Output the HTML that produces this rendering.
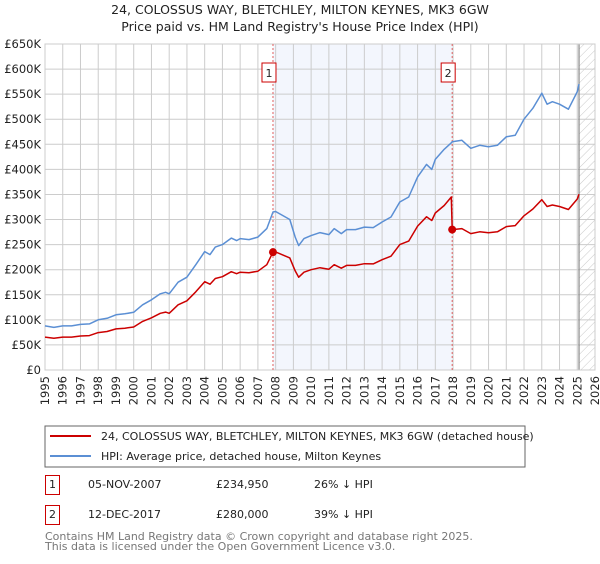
<!DOCTYPE html>
<html><head><meta charset="utf-8"><style>
body{margin:0;background:#fff;font-family:"DejaVu Sans","Liberation Sans",sans-serif;}
svg text{font-family:"DejaVu Sans","Liberation Sans",sans-serif;}
</style></head><body>
<svg width="600" height="560" viewBox="0 0 600 560">
<defs><pattern id="hatch" width="6" height="6" patternUnits="userSpaceOnUse" patternTransform="rotate(45)"><line x1="0" y1="0" x2="0" y2="6" stroke="#bbb" stroke-width="0.8"/></pattern></defs>
<text x="300" y="14" text-anchor="middle" font-size="12.5" fill="#222">24, COLOSSUS WAY, BLETCHLEY, MILTON KEYNES, MK3 6GW</text>
<text x="300" y="31" text-anchor="middle" font-size="12.5" fill="#222">Price paid vs. HM Land Registry's House Price Index (HPI)</text>
<g id="plot"></g>
<rect x="45" y="426" width="480" height="41" fill="#fff" stroke="#666"/>
<line x1="50" y1="436" x2="91" y2="436" stroke="#cc0000" stroke-width="2"/>
<text x="101" y="440" font-size="11" fill="#222">24, COLOSSUS WAY, BLETCHLEY, MILTON KEYNES, MK3 6GW (detached house)</text>
<line x1="50" y1="456" x2="91" y2="456" stroke="#5b8fd4" stroke-width="2"/>
<text x="101" y="460" font-size="11" fill="#222">HPI: Average price, detached house, Milton Keynes</text>
<g font-size="11" fill="#222">
<rect x="45.5" y="475.5" width="14" height="19" fill="#fff" stroke="#cc0000"/>
<text x="52.5" y="488" text-anchor="middle">1</text>
<text x="88" y="488">05-NOV-2007</text><text x="216" y="488">£234,950</text><text x="314" y="488">26% ↓ HPI</text></g>
<g font-size="11" fill="#222">
<rect x="45.5" y="505.5" width="14" height="19" fill="#fff" stroke="#cc0000"/>
<text x="52.5" y="518" text-anchor="middle">2</text>
<text x="88" y="518">12-DEC-2017</text><text x="216" y="518">£280,000</text><text x="314" y="518">39% ↓ HPI</text></g>
<text x="45" y="540" font-size="11" fill="#777">Contains HM Land Registry data © Crown copyright and database right 2025.</text>
<text x="45" y="550" font-size="11" fill="#777">This data is licensed under the Open Government Licence v3.0.</text>
</svg>
<script>
const dates=[1995.0,1995.5,1996.0,1996.5,1997.0,1997.5,1998.0,1998.5,1999.0,1999.5,2000.0,2000.5,2001.0,2001.5,2001.8,2002.0,2002.5,2003.0,2003.5,2004.0,2004.3,2004.6,2005.0,2005.5,2005.8,2006.0,2006.5,2007.0,2007.5,2007.85,2008.0,2008.4,2008.8,2009.1,2009.3,2009.6,2010.0,2010.5,2011.0,2011.3,2011.7,2012.0,2012.5,2013.0,2013.5,2014.0,2014.5,2015.0,2015.5,2016.0,2016.5,2016.8,2017.0,2017.5,2017.9,2017.95,2018.5,2019.0,2019.5,2020.0,2020.5,2021.0,2021.5,2022.0,2022.5,2023.0,2023.3,2023.6,2024.0,2024.5,2025.0,2025.1];
const hpiValues=[88,85,88,88,91,92,100,103,110,112,115,130,140,152,155,152,175,185,210,236,230,245,250,263,258,262,260,265,282,315,316,308,300,265,248,262,268,274,270,282,272,280,280,285,284,295,305,335,345,385,410,400,420,440,453,455,458,442,448,445,448,465,468,500,522,552,530,535,530,520,555,570];
const priceValues=[65.6,63.3,65.6,65.6,67.8,68.5,74.5,76.7,82,83.4,85.7,96.9,104,113,115.5,113,130,138,156,176,171,182.5,186,196,192,195,194,197,210,235,235.5,229.5,223.5,197.5,185,195,200,204,201,210,203,208.6,208.6,212,211.6,220,227,250,257,287,305.5,298,313,328,345,280,282,272,275.5,273.7,275.5,286,288,307.5,321,339.5,326,329,326,320,341,350.5];
const yTicks=[0,50,100,150,200,250,300,350,400,450,500,550,600,650];
const yTickLabels=["£0","£50K","£100K","£150K","£200K","£250K","£300K","£350K","£400K","£450K","£500K","£550K","£600K","£650K"];
const xTicks=[1995,1996,1997,1998,1999,2000,2001,2002,2003,2004,2005,2006,2007,2008,2009,2010,2011,2012,2013,2014,2015,2016,2017,2018,2019,2020,2021,2022,2023,2024,2025,2026];
const saleDates=[2007.85,2017.95];
const salePrices=[234.95,280];
const saleLabels=["1","2"];
const dataEnd=2025.1;
const X0=45,X1=595,Y0=370,Y1=44;
const xs=d=>X0+(d-1995)/(2026-1995)*(X1-X0);
const ys=v=>Y0-v/650*(Y0-Y1);
const NS="http://www.w3.org/2000/svg";
const g=document.getElementById('plot');
function mk(t,a,p){const e=document.createElementNS(NS,t);for(const k in a)e.setAttribute(k,a[k]);(p||g).appendChild(e);return e;}
let e=mk('rect',{x:xs(saleDates[0]),y:Y1,width:xs(saleDates[1])-xs(saleDates[0]),height:Y0-Y1,fill:'#eef2fc',opacity:0.7});


e=mk('rect',{x:xs(dataEnd),y:Y1,width:X1-xs(dataEnd),height:Y0-Y1,fill:'url(#hatch)'});


yTicks.forEach((v,i)=>{
 let l=mk('line',{x1:X0,x2:X1,y1:ys(v),y2:ys(v),stroke:'#ccc','stroke-width':1});
 
 
 let t=mk('text',{x:X0-4,y:ys(v)+4,'text-anchor':'end','font-size':11.5,fill:'#222'});
 t.textContent=yTickLabels[i];
 
 
});
xTicks.forEach(v=>{
 let l=mk('line',{x1:xs(v),x2:xs(v),y1:Y1,y2:Y0,stroke:'#ccc','stroke-width':1});
 
 
 let t=mk('text',{x:0,y:0,'text-anchor':'end','font-size':11.5,fill:'#222',transform:`translate(${xs(v)+4},${Y0+6}) rotate(-90)`});
 t.textContent=v;
 
 
});
e=mk('line',{x1:xs(dataEnd),x2:xs(dataEnd),y1:Y1,y2:Y0,stroke:'#888','stroke-width':1.2});


e=mk('rect',{x:X0,y:Y1,width:X1-X0,height:Y0-Y1,fill:'none',stroke:'#ccc'});


saleDates.forEach((d,i)=>{
 let l=mk('line',{x1:xs(d),x2:xs(d),y1:Y1,y2:Y0,stroke:'#e06060','stroke-width':1,'stroke-dasharray':'2,2'});
 
 
});
function path(vals,col,name){
 let dstr=dates.map((d,i)=>(i?'L':'M')+xs(d).toFixed(1)+','+ys(vals[i]).toFixed(1)).join('');
 let p=mk('path',{d:dstr,fill:'none',stroke:col,'stroke-width':1.5,'stroke-linejoin':'round'});
 
 
}
path(hpiValues,'#5b8fd4','hpi-line');
path(priceValues,'#cc0000','price-paid-line');
saleDates.forEach((d,i)=>{
 let c=mk('circle',{cx:xs(d),cy:ys(salePrices[i]),r:4,fill:'#cc0000'});
 
 
 let b=mk('rect',{x:xs(d)-11,y:63,width:14,height:19,fill:'#fff',stroke:'#cc0000'});
 
 
 let t=mk('text',{x:xs(d)-4,y:77,'text-anchor':'middle','font-size':11,fill:'#222'});
 t.textContent=saleLabels[i];
 
 
});
</script>
</body></html>
